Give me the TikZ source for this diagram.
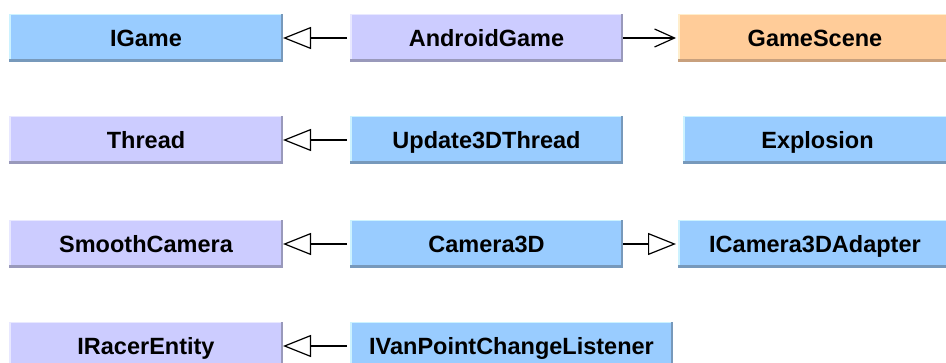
\documentclass[tikz,border=0pt]{standalone}
\usepackage{fontspec}
\setmainfont{Liberation Sans}
\usetikzlibrary{arrows.meta}
\definecolor{cBlue}{HTML}{99CCFF}
\definecolor{cBlueL}{HTML}{CCF2FF}
\definecolor{cBlueD}{HTML}{7799BB}
\definecolor{cLav}{HTML}{CCCCFF}
\definecolor{cLavL}{HTML}{E8E8FF}
\definecolor{cLavD}{HTML}{9999BB}
\definecolor{cOra}{HTML}{FFCC99}
\definecolor{cOraL}{HTML}{FFEECC}
\definecolor{cOraD}{HTML}{C8A07D}
\tikzset{
  cls/.style n args={3}{fill=#1, minimum height=48pt, inner sep=0pt, outer sep=0pt,
    anchor=north west, font=\fontsize{23.5}{26}\selectfont\bfseries,
    text height=17pt, text depth=-3pt,
    path picture={
      \fill[#2] (path picture bounding box.north west) rectangle ([yshift=-1.5pt]path picture bounding box.north east);
      \fill[#2] (path picture bounding box.north west) rectangle ([xshift=1.5pt]path picture bounding box.south west);
      \fill[#3] ([yshift=2.5pt]path picture bounding box.south west) rectangle (path picture bounding box.south east);
      \fill[#3] ([xshift=-2.5pt]path picture bounding box.north east) rectangle (path picture bounding box.south east);
    }},
  ifacebox/.style={cls={cBlue}{cBlueL}{cBlueD}},
  classbox/.style={cls={cLav}{cLavL}{cLavD}},
  scenebox/.style={cls={cOra}{cOraL}{cOraD}},
  realize/.style={line width=1.2pt, shorten <=3pt, -{Triangle[open,length=28pt,width=22pt,line width=1.2pt]}},
  assoc/.style={line width=1.2pt, -{Straight Barb[length=20pt,width=18pt,line width=1.2pt]}},
}
\begin{document}
\begin{tikzpicture}[x=1pt,y=-1pt]
\useasboundingbox (0,0) rectangle (946,363);
\clip (0,0) rectangle (946,363);
% row 1
\node[ifacebox, minimum width=274pt] (igame) at (9,14) {IGame};
\node[classbox, minimum width=273pt] (android) at (350,14) {AndroidGame};
\node[scenebox, minimum width=280pt] (scene) at (678,14) {\hspace*{-6pt}GameScene};
% row 2
\node[classbox, minimum width=274pt] (thread) at (9,116) {Thread};
\node[ifacebox, minimum width=273pt] (upd) at (350,116) {Update3DThread};
\node[ifacebox, minimum width=275pt] (expl) at (683,116) {\hspace*{-6pt}Explosion};
% row 3
\node[classbox, minimum width=274pt] (smooth) at (9,220) {SmoothCamera};
\node[ifacebox, minimum width=273pt] (cam) at (350,220) {Camera3D};
\node[ifacebox, minimum width=280pt] (adapter) at (678,220) {\hspace*{-6pt}ICamera3DAdapter};
% row 4
\node[classbox, minimum width=274pt] (racer) at (9,322) {IRacerEntity};
\node[ifacebox, minimum width=323pt] (vanpt) at (350,322) {IVanPointChangeListener};
% connectors
\draw[realize] (android.west) -- (igame.east);
\draw[assoc] (android.east) -- ([xshift=-2pt]scene.west);
\draw[realize] (upd.west) -- (thread.east);
\draw[realize] (cam.west) -- (smooth.east);
\draw[realize, shorten <=0pt] (cam.east) -- ([xshift=-2pt]adapter.west);
\draw[realize] (vanpt.west) -- (racer.east);
\end{tikzpicture}
\end{document}
